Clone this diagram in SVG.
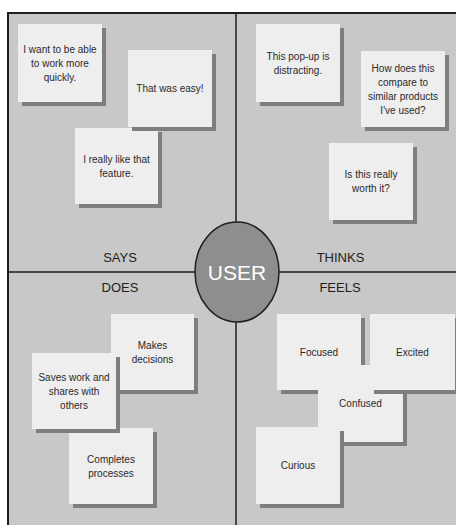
<svg xmlns="http://www.w3.org/2000/svg" width="456" height="525" viewBox="0 0 456 525">
<style>
.note rect.sh{fill:#7e7e7e}
.note rect.bx{fill:#eeeeee}
.note text{font-family:"Liberation Sans",Arial,sans-serif;font-size:10px;fill:#2a2a2a;text-anchor:middle}
.lbl{font-family:"Liberation Sans",Arial,sans-serif;font-size:13px;fill:#1e1e1e;text-anchor:middle}
.div{stroke:#1e1e1e;stroke-width:1.5;fill:none}
</style>
<rect x="0" y="0" width="456" height="525" fill="#ffffff"/>
<rect id="board" x="8" y="13" width="460" height="520" fill="#c8c8c8" stroke="#1e1e1e" stroke-width="2"/>
<g id="dividers">
<line class="div" x1="236" y1="13" x2="236" y2="525"/>
<line class="div" x1="8" y1="272" x2="456" y2="272"/>
</g>

<g id="n-says-1" class="note"><rect class="sh" x="22" y="28" width="84" height="78"/><rect class="bx" x="18" y="24" width="84" height="78"/>
<text x="60" y="52.5">I want to be able</text><text x="60" y="66.5">to work more</text><text x="60" y="80.5">quickly.</text></g>
<g id="n-says-3" class="note"><rect class="sh" x="79" y="132" width="83" height="76"/><rect class="bx" x="75" y="128" width="83" height="76"/>
<text x="116.5" y="163">I really like that</text><text x="116.5" y="177">feature.</text></g>
<g id="n-says-2" class="note"><rect class="sh" x="132" y="54" width="84" height="77"/><rect class="bx" x="128" y="50" width="84" height="77"/>
<text x="170" y="92">That was easy!</text></g>

<g id="n-thinks-1" class="note"><rect class="sh" x="260" y="28" width="84" height="78"/><rect class="bx" x="256" y="24" width="84" height="78"/>
<text x="298" y="59.5">This pop-up is</text><text x="298" y="73.5">distracting.</text></g>
<g id="n-thinks-2" class="note"><rect class="sh" x="365" y="55" width="84" height="76"/><rect class="bx" x="361" y="51" width="84" height="76"/>
<text x="403" y="71.5">How does this</text><text x="403" y="85.5">compare to</text><text x="403" y="99.5">similar products</text><text x="403" y="113.5">I've used?</text></g>
<g id="n-thinks-3" class="note"><rect class="sh" x="333" y="147" width="84" height="77"/><rect class="bx" x="329" y="143" width="84" height="77"/>
<text x="371" y="178">Is this really</text><text x="371" y="192">worth it?</text></g>

<g id="n-does-1" class="note"><rect class="sh" x="115" y="318" width="83" height="76"/><rect class="bx" x="111" y="314" width="83" height="76"/>
<text x="152.5" y="348.5">Makes</text><text x="152.5" y="362.5">decisions</text></g>
<g id="n-does-3" class="note"><rect class="sh" x="73" y="432" width="84" height="76"/><rect class="bx" x="69" y="428" width="84" height="76"/>
<text x="111" y="462.5">Completes</text><text x="111" y="476.5">processes</text></g>
<g id="n-does-2" class="note"><rect class="sh" x="36" y="357" width="84" height="76"/><rect class="bx" x="32" y="353" width="84" height="76"/>
<text x="74" y="380.5">Saves work and</text><text x="74" y="394.5">shares with</text><text x="74" y="408.5">others</text></g>

<g id="n-feels-1" class="note"><rect class="sh" x="281" y="318" width="84" height="76"/><rect class="bx" x="277" y="314" width="84" height="76"/>
<text x="319" y="355.5">Focused</text></g>
<g id="n-feels-3" class="note"><rect class="sh" x="322" y="369" width="85" height="77"/><rect class="bx" x="318" y="365" width="85" height="77"/>
<text x="360.5" y="407">Confused</text></g>
<g id="n-feels-2" class="note"><rect class="sh" x="374" y="318" width="85" height="76"/><rect class="bx" x="370" y="314" width="85" height="76"/>
<text x="412.5" y="355.5">Excited</text></g>
<g id="n-feels-4" class="note"><rect class="sh" x="260" y="431" width="84" height="77"/><rect class="bx" x="256" y="427" width="84" height="77"/>
<text x="298" y="469">Curious</text></g>

<g id="labels">
<text class="lbl" x="120" y="261.5">SAYS</text>
<text class="lbl" x="340.5" y="261.5">THINKS</text>
<text class="lbl" x="120" y="291.5">DOES</text>
<text class="lbl" x="340" y="291.5">FEELS</text>
</g>

<g id="user">
<ellipse cx="237" cy="272" rx="42" ry="50" fill="#8e8e8e" stroke="#1e1e1e" stroke-width="1.5"/>
<text x="237" y="279.5" font-family="'Liberation Sans',Arial,sans-serif" font-size="21" fill="#ffffff" text-anchor="middle">USER</text>
</g>
</svg>
